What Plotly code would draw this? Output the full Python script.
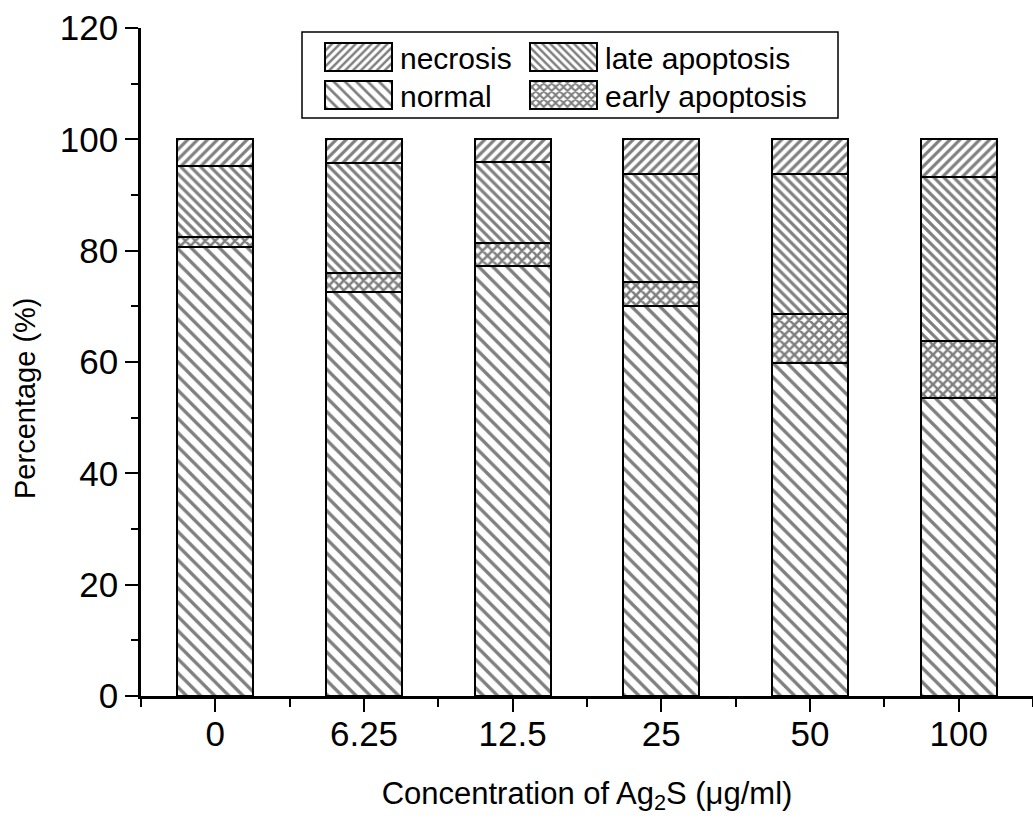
import plotly.graph_objects as go

categories = ["0", "6.25", "12.5", "25", "50", "100"]
normal = [80.7, 72.6, 77.3, 70.1, 59.9, 53.5]
early_apoptosis = [1.8, 3.3, 4.1, 4.3, 8.8, 10.3]
late_apoptosis = [12.8, 19.8, 14.5, 19.4, 25.1, 29.4]
necrosis = [4.7, 4.3, 4.1, 6.2, 6.2, 6.8]

FONT = "Arial, 'Liberation Sans', Helvetica, sans-serif"
xpos = list(range(len(categories)))

series = [
    ("normal", normal, "\\", 10, 0.34, "legend3"),
    ("early apoptosis", early_apoptosis, "x", 7, 0.6, "legend4"),
    ("late apoptosis", late_apoptosis, "\\", 7, 0.45, "legend2"),
    ("necrosis", necrosis, "/", 7, 0.45, "legend"),
]

fig = go.Figure()
for name, vals, shape, size, sol, leg in series:
    fig.add_trace(go.Bar(
        x=xpos, y=vals, name=name, width=0.51, legend=leg, showlegend=True,
        marker=dict(
            color="white",
            line=dict(color="black", width=2),
            pattern=dict(shape=shape, fgcolor="black", bgcolor="white",
                         size=size, solidity=sol, fillmode="overlay"),
        ),
    ))

def px_x(p):
    return (p - 141) / 892

def px_y(p):
    return (696 - p) / 668

def leg(xp, yp):
    return dict(orientation="h", x=px_x(xp), y=px_y(yp), xanchor="left", yanchor="top",
                font=dict(size=30), itemwidth=73, bgcolor="rgba(0,0,0,0)", visible=True)

fig.update_layout(
    barmode="stack",
    showlegend=True,
    width=1033, height=821,
    margin=dict(l=141, r=0, t=28, b=125),
    paper_bgcolor="white", plot_bgcolor="white",
    font=dict(family=FONT, color="black"),
    legend=leg(317, 31),
    legend2=leg(522, 31),
    legend3=leg(317, 69),
    legend4=leg(522, 69),
    shapes=[dict(type="rect", xref="paper", yref="paper",
                 x0=px_x(302), x1=px_x(838), y0=px_y(118), y1=px_y(32),
                 line=dict(color="black", width=1.5), fillcolor="rgba(0,0,0,0)")],
    annotations=[dict(text="Percentage (%)", textangle=-90, xref="paper", yref="paper",
                      x=px_x(25), y=px_y(398), xanchor="center", yanchor="middle",
                      showarrow=False, font=dict(size=29))],
)

fig.update_xaxes(
    range=[-0.5, 5.5], tickmode="array", tickvals=xpos, ticktext=categories,
    showline=True, linecolor="black", linewidth=2.5, mirror=False,
    ticks="outside", ticklen=13, tickwidth=2, tickcolor="black",
    tickfont=dict(size=35), showgrid=False, zeroline=False, ticklabelstandoff=-8,
    minor=dict(tickmode="linear", tick0=-0.5, dtick=1, ticks="outside", ticklen=8,
               tickwidth=2, tickcolor="black", showgrid=False),
    title=dict(text="Concentration of Ag<sub>2</sub>S (\u03bcg/ml)", font=dict(size=31), standoff=31),
)
fig.update_yaxes(
    range=[0, 120], tickmode="linear", tick0=0, dtick=20,
    showline=True, linecolor="black", linewidth=2.5,
    ticks="outside", ticklen=13, tickwidth=2, tickcolor="black",
    tickfont=dict(size=35), showgrid=False, zeroline=False, ticklabelstandoff=0,
    minor=dict(tickmode="linear", tick0=10, dtick=20, ticks="outside", ticklen=7,
               tickwidth=2, tickcolor="black", showgrid=False),
)

post = """
var gd = document.getElementById('{plot_id}');
function fixLegendSwatches(){
  document.querySelectorAll('g.legendpoints path').forEach(function(p){
    p.setAttribute('d', 'M33.5,14H-33.5V-14H33.5Z');
    p.style.strokeWidth = '2px';
  });
}
fixLegendSwatches();
if (gd && gd.on) { gd.on('plotly_afterplot', fixLegendSwatches); }
"""

fig.write_html("out.html", post_script=post)
